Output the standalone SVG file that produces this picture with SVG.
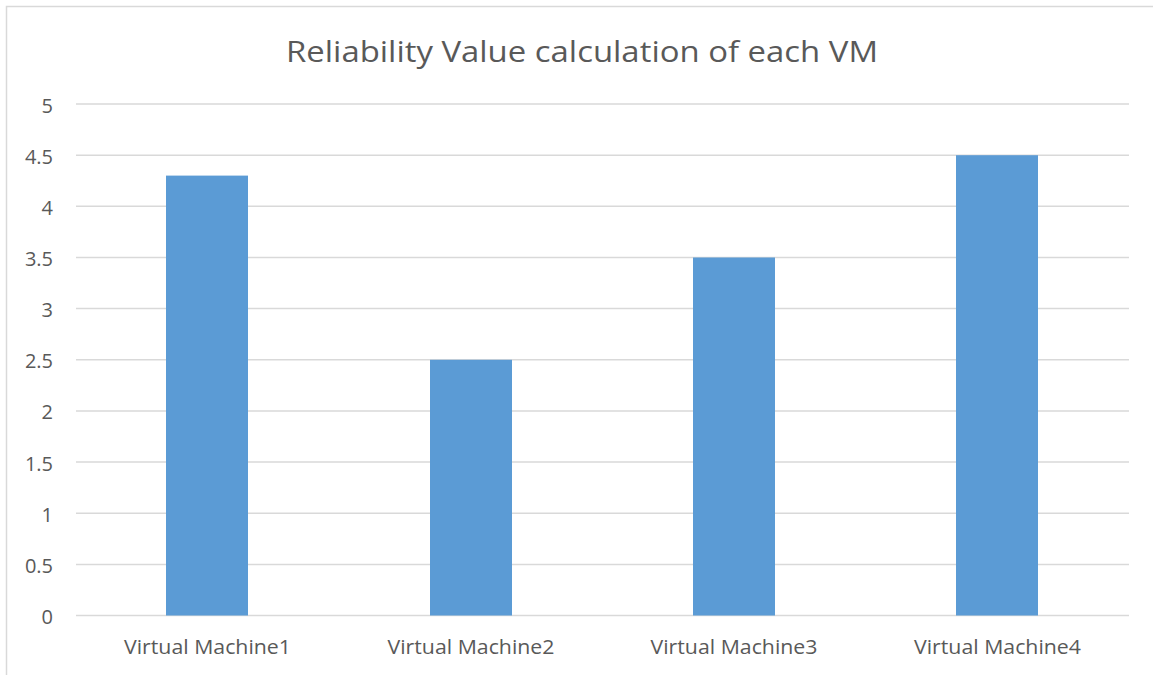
<svg xmlns="http://www.w3.org/2000/svg" width="1153" height="675" viewBox="0 0 1153 675">
<style>
.txt{font-family:"Open Sans","Liberation Sans",sans-serif;fill:#595959}
.tick{font-size:20px;text-anchor:end}
.cat{font-size:20px;text-anchor:middle}
.grid{stroke:#d9d9d9;stroke-width:1.5;fill:none}
.bar{fill:#5b9bd5}
</style>
<rect x="0" y="0" width="1153" height="675" fill="#ffffff"/>
<path d="M6.5,675 V6.5 H1153" fill="none" stroke="#d9d9d9" stroke-width="1.5"/>
<g id="title">
<text class="txt" x="582" y="62" font-size="29" text-anchor="middle" textLength="592" lengthAdjust="spacingAndGlyphs">Reliability Value calculation of each VM</text>
</g>
<g id="gridlines">
<line class="grid" x1="76" y1="104" x2="1129" y2="104"/>
<line class="grid" x1="76" y1="155.2" x2="1129" y2="155.2"/>
<line class="grid" x1="76" y1="206.3" x2="1129" y2="206.3"/>
<line class="grid" x1="76" y1="257.5" x2="1129" y2="257.5"/>
<line class="grid" x1="76" y1="308.6" x2="1129" y2="308.6"/>
<line class="grid" x1="76" y1="359.8" x2="1129" y2="359.8"/>
<line class="grid" x1="76" y1="410.9" x2="1129" y2="410.9"/>
<line class="grid" x1="76" y1="462.1" x2="1129" y2="462.1"/>
<line class="grid" x1="76" y1="513.2" x2="1129" y2="513.2"/>
<line class="grid" x1="76" y1="564.4" x2="1129" y2="564.4"/>
<line class="grid" x1="76" y1="615.5" x2="1129" y2="615.5"/>
</g>
<g id="y-axis">
<text class="txt tick" x="53" y="112.5">5</text>
<text class="txt tick" x="53" y="163.7">4.5</text>
<text class="txt tick" x="53" y="214.8">4</text>
<text class="txt tick" x="53" y="266">3.5</text>
<text class="txt tick" x="53" y="317.1">3</text>
<text class="txt tick" x="53" y="368.3">2.5</text>
<text class="txt tick" x="53" y="419.4">2</text>
<text class="txt tick" x="53" y="470.6">1.5</text>
<text class="txt tick" x="53" y="521.7">1</text>
<text class="txt tick" x="53" y="572.9">0.5</text>
<text class="txt tick" x="53" y="624">0</text>
</g>
<g id="bar-vm1"><rect class="bar" x="166" y="175.6" width="82" height="439.9"/></g>
<g id="bar-vm2"><rect class="bar" x="430" y="359.8" width="82" height="255.7"/></g>
<g id="bar-vm3"><rect class="bar" x="693" y="257.5" width="82" height="358"/></g>
<g id="bar-vm4"><rect class="bar" x="956" y="155.2" width="82" height="460.3"/></g>
<g id="x-axis">
<text class="txt cat" x="207.5" y="654" textLength="167" lengthAdjust="spacingAndGlyphs">Virtual Machine1</text>
<text class="txt cat" x="471" y="654" textLength="167" lengthAdjust="spacingAndGlyphs">Virtual Machine2</text>
<text class="txt cat" x="734" y="654" textLength="167" lengthAdjust="spacingAndGlyphs">Virtual Machine3</text>
<text class="txt cat" x="997.5" y="654" textLength="167" lengthAdjust="spacingAndGlyphs">Virtual Machine4</text>
</g>
</svg>
